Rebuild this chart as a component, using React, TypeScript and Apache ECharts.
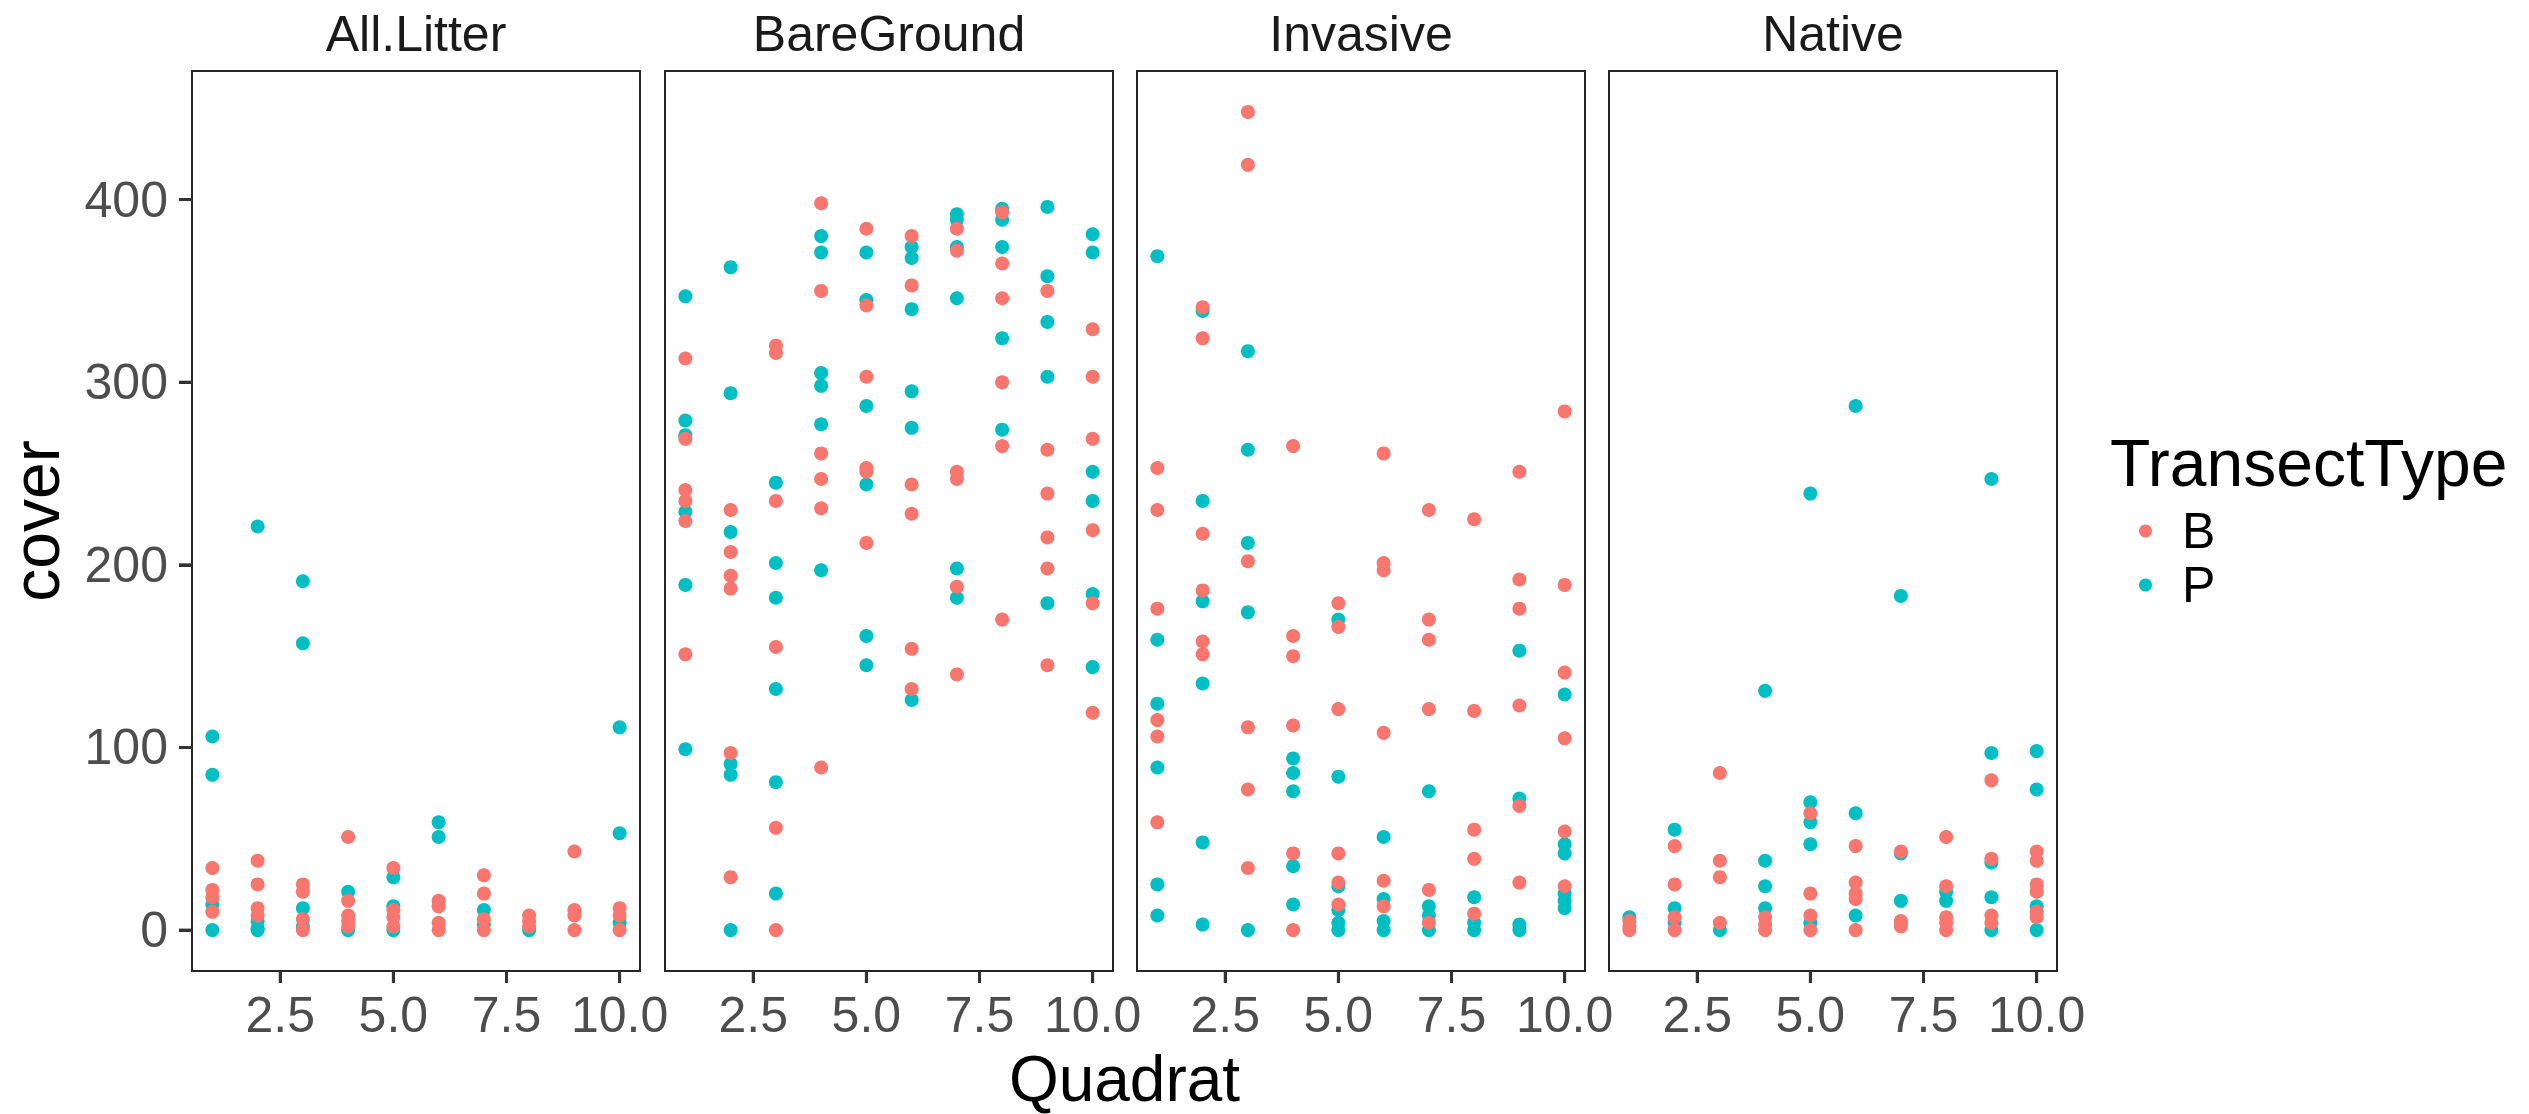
import React, { useEffect, useRef } from "react";
import * as echarts from "echarts";

// Facet panels
const panels = ["All.Litter", "BareGround", "Invasive", "Native"];
const transectTypes = ["B", "P"];
const colors = ["#F8766D", "#00BFC4"];
const xTicks = [2.5, 5.0, 7.5, 10.0];
const yTicks = [0, 100, 200, 300, 400];
const X_MIN = 0.55;
const X_MAX = 10.45;
const Y_MIN = -22.4;
const Y_MAX = 470.4;

// cover values per quadrat (index 0 = quadrat 1)
const litterB = [[34, 22, 18, 10], [38, 25, 12, 8], [25, 21, 6, 0], [51, 16, 8, 5, 2], [34, 11, 7, 2], [16, 13, 4, 0], [30, 20, 6, 0], [8, 5, 2], [43, 11, 8, 0], [12, 8, 0]];
const litterP = [[106, 85, 14, 0], [221, 5, 1, 0], [191, 157, 12, 2], [21, 0], [29, 13, 0], [59, 51], [11, 3], [0], [], [111, 53, 4]];

const bareB = [[313, 269, 241, 235, 224, 151], [230, 207, 194, 187, 97, 29], [320, 316, 235, 155, 56, 0], [398, 350, 261, 247, 231, 89], [384, 342, 303, 253, 251, 212], [380, 353, 244, 228, 154, 132], [384, 372, 251, 247, 188, 140], [393, 365, 346, 300, 265, 170], [350, 263, 239, 215, 198, 145], [329, 303, 269, 219, 179, 119]];
const bareP = [[347, 279, 271, 229, 189, 99], [363, 294, 218, 91, 85, 0], [245, 201, 182, 132, 81, 20], [380, 371, 305, 298, 277, 197], [371, 345, 287, 244, 161, 145], [374, 368, 340, 295, 275, 126], [392, 389, 374, 346, 198, 182], [395, 389, 374, 324, 274], [396, 358, 333, 303, 179], [381, 371, 251, 235, 184, 144]];

const invasiveB = [[253, 230, 176, 115, 106, 59], [341, 324, 217, 186, 158, 151], [448, 419, 202, 111, 77, 34], [265, 161, 150, 112, 42, 0], [179, 166, 121, 42, 26, 14], [261, 201, 197, 108, 27, 13], [230, 170, 159, 121, 22, 4], [225, 120, 55, 39, 9], [251, 192, 176, 123, 68, 26], [284, 189, 141, 105, 54, 24]];
const invasiveP = [[369, 159, 124, 89, 25, 8], [339, 235, 180, 135, 48, 3], [317, 263, 212, 174, 0], [94, 86, 76, 35, 14], [170, 84, 24, 11, 4, 0], [51, 17, 5, 0], [76, 13, 8, 0], [18, 4, 0], [153, 72, 3, 0], [129, 47, 42, 20, 16, 12]];

const nativeB = [[5, 2, 0], [46, 25, 7, 0], [86, 38, 29, 4], [7, 3, 0], [64, 20, 8, 0], [46, 26, 20, 17, 0], [43, 5, 2], [51, 24, 7, 4, 0], [82, 39, 8, 4], [43, 38, 25, 21, 10, 7]];
const nativeP = [[7], [55, 12, 4], [0], [131, 38, 24, 12], [239, 70, 59, 47, 4], [287, 64, 8], [183, 42, 16, 4], [21, 16], [247, 97, 37, 18, 0], [98, 77, 13, 0]];

const panelData = [
  [litterB, litterP],
  [bareB, bareP],
  [invasiveB, invasiveP],
  [nativeB, nativeP],
];

const toPoints = (perQuadrat: number[][]) =>
  perQuadrat.flatMap((vals, i) => vals.map((v) => [i + 1, v]));

const FONT = "'Liberation Sans', Arial, Helvetica, sans-serif";
const BORDER = "#262626";
const TICK_COLOR = "#333333";

export default function App() {
  const ref = useRef<HTMLDivElement>(null);
  useEffect(() => {
    if (!ref.current) return;
    document.body.style.margin = "0";
    const chart = echarts.init(ref.current, null, { renderer: "svg" });

    const lefts = [192, 665, 1137, 1609];
    const gw = 448;
    const gtop = 71;
    const gh = 900;

    const grid = lefts.map((l) => ({
      left: l,
      top: gtop,
      width: gw,
      height: gh,
      show: true,
      borderColor: BORDER,
      borderWidth: 2,
    }));

    const xAxis = lefts.map((_, i) => ({
      type: "value",
      gridIndex: i,
      min: X_MIN,
      max: X_MAX,
      position: "bottom",
      axisLine: { show: true, onZero: false, lineStyle: { color: BORDER, width: 2 } },
      splitLine: { show: false },
      axisTick: {
        show: true,
        inside: false,
        customValues: xTicks,
        length: 12,
        lineStyle: { color: TICK_COLOR, width: 3 },
      },
      axisLabel: {
        show: true,
        customValues: xTicks,
        formatter: (v: number) => v.toFixed(1),
        color: "#4d4d4d",
        fontSize: 50,
        fontFamily: FONT,
        margin: 19,
      },
    }));

    const yAxis = lefts.map((_, i) => ({
      type: "value",
      gridIndex: i,
      min: Y_MIN,
      max: Y_MAX,
      position: "left",
      axisLine: { show: true, onZero: false, lineStyle: { color: BORDER, width: 2 } },
      splitLine: { show: false },
      axisTick: {
        show: i === 0,
        inside: false,
        customValues: yTicks,
        length: 13,
        lineStyle: { color: TICK_COLOR, width: 3 },
      },
      axisLabel: {
        show: i === 0,
        customValues: yTicks,
        color: "#4d4d4d",
        fontSize: 50,
        fontFamily: FONT,
        margin: 24,
      },
    }));

    const series: any[] = [];
    panelData.forEach((pair, pi) => {
      [1, 0].forEach((ti) => {
        series.push({
          type: "scatter",
          name: transectTypes[ti],
          xAxisIndex: pi,
          yAxisIndex: pi,
          data: toPoints(pair[ti]),
          symbol: "circle",
          symbolSize: 14,
          itemStyle: { color: colors[ti], opacity: 1 },
          z: ti === 0 ? 3 : 2,
        });
      });
      // x-axis tick marks, placed through the panel's scales
      series.push({
        type: "custom",
        name: "xticks" + pi,
        xAxisIndex: pi,
        yAxisIndex: pi,
        silent: true,
        clip: false,
        z: 10,
        data: xTicks.map((v) => [v, Y_MIN]),
        renderItem: (params: any, api: any) => {
          const p = api.coord([api.value(0), api.value(1)]);
          return {
            type: "line",
            shape: { x1: p[0], y1: p[1], x2: p[0], y2: p[1] + 12 },
            style: { stroke: TICK_COLOR, lineWidth: 3 },
          };
        },
      });
    });
    // y-axis tick marks on the first panel
    series.push({
      type: "custom",
      name: "yticks",
      xAxisIndex: 0,
      yAxisIndex: 0,
      silent: true,
      clip: false,
      z: 10,
      data: yTicks.map((v) => [X_MIN, v]),
      renderItem: (params: any, api: any) => {
        const p = api.coord([api.value(0), api.value(1)]);
        return {
          type: "line",
          shape: { x1: p[0], y1: p[1], x2: p[0] - 13, y2: p[1] },
          style: { stroke: TICK_COLOR, lineWidth: 3 },
        };
      },
    });

    const graphic: any[] = panels.map((p, i) => ({
      type: "text",
      x: lefts[i] + gw / 2,
      y: 34,
      style: {
        text: p,
        fill: "#1a1a1a",
        font: `50px ${FONT}`,
        align: "center",
        verticalAlign: "middle",
      },
    }));
    graphic.push({
      type: "text",
      x: (lefts[0] + lefts[3] + gw) / 2,
      y: 1079,
      style: {
        text: "Quadrat",
        fill: "#000000",
        font: `64px ${FONT}`,
        align: "center",
        verticalAlign: "middle",
      },
    });
    graphic.push({
      type: "text",
      x: 36,
      y: gtop + gh / 2,
      rotation: Math.PI / 2,
      style: {
        text: "cover",
        fill: "#000000",
        font: `66px ${FONT}`,
        align: "center",
        verticalAlign: "middle",
      },
    });
    graphic.push({
      type: "text",
      x: 2110,
      y: 463,
      style: {
        text: "TransectType",
        fill: "#000000",
        font: `66px ${FONT}`,
        align: "left",
        verticalAlign: "middle",
      },
    });

    chart.setOption({
      animation: false,
      backgroundColor: "#ffffff",
      grid,
      xAxis,
      yAxis,
      series,
      graphic,
      legend: {
        data: transectTypes,
        orient: "vertical",
        left: 2134,
        top: 499,
        itemWidth: 13,
        itemHeight: 13,
        itemGap: 0,
        icon: "circle",
        textStyle: {
          fontSize: 50,
          lineHeight: 54,
          fontFamily: FONT,
          color: "#000000",
          padding: [0, 0, 0, 25],
        },
      },
    });
    return () => chart.dispose();
  }, []);
  return (
    <div
      ref={ref}
      style={{ position: "absolute", left: 0, top: 0, width: 2529, height: 1114 }}
    />
  );
}
